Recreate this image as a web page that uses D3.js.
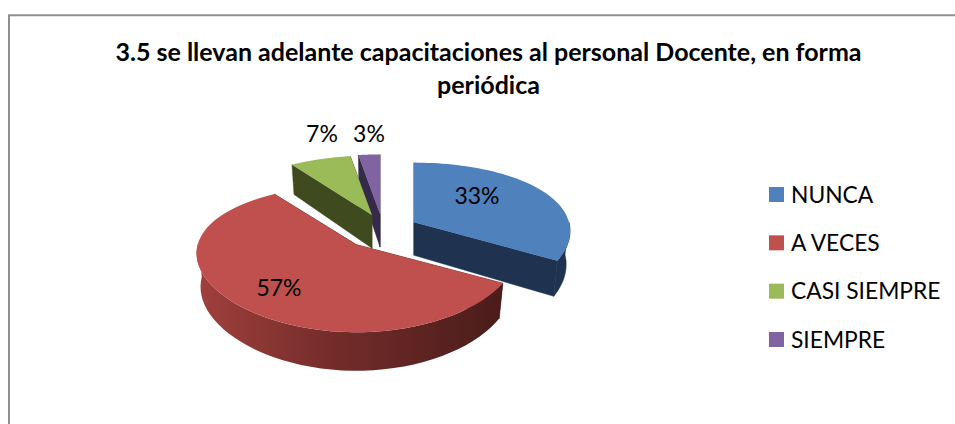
<!DOCTYPE html>
<html><head><meta charset="utf-8">
<script src="https://cdn.jsdelivr.net/npm/d3@7"></script>
<style>html,body{margin:0;padding:0;background:#fff;overflow:hidden}svg{display:block}text{font-family:Lato,"Open Sans",sans-serif;fill:#000}</style>
</head><body><svg id="c" width="955" height="424"></svg>
<script>
const categories = ["NUNCA","A VECES","CASI SIEMPRE","SIEMPRE"];
const values = [33.2,57.2,7.1,2.5];
const valueLabels = ["33%","57%","7%","3%"];
const titleLines = ["3.5 se llevan adelante capacitaciones al personal Docente, en forma","periódica"];
const topColors = ["#4f81bd","#c0504d","#9bbb59","#8064a2"];
const wallColors = ["#1f3350","#4a1c1a","#3f4a1f","#352a4a"];
const labelSpots = [[477,196],[279,288],[322,134],[369,134]];
const sliceNudgeX = [-2,0,3,0];
const sliceScale = [1,1.023,1,1];

const svg = d3.select("#c");
const C = {x:383,y:231}, R=155, RY=71, PX=0.12, PY=0.19, E=0.25, D=33, F=0.975;
function proj(a,b,bottom){
  const sx = 1/(1-PX*b), sy = 1/(1-PY*b);
  return bottom ? [R*a*sx*F, (RY*b*F+D)*sy] : [R*a*sx, RY*b*sy];
}
const slices = d3.pie().sort(null).value(d=>d)(values);
const line = d3.line();
const defs = svg.append("defs");
const g = defs.append("linearGradient").attr("id","rim");
[[0,"#a0403d"],[0.45,"#732c2a"],[1,"#4a1c1a"]].forEach(s=>g.append("stop").attr("offset",s[0]).attr("stop-color",s[1]));

// frame
svg.append("path").attr("d",line([[9,424],[9,15.3],[955,15.3]])).attr("fill","none").attr("stroke","#8e8e8e").attr("stroke-width",2);

// title
svg.append("g").selectAll("text").data(titleLines).join("text")
 .attr("x",488.5).attr("y",(d,i)=>61+i*33).attr("text-anchor","middle")
 .attr("font-size",25).attr("font-weight",700).text(d=>d);

const order=[3,2,0,1];
order.forEach(i=>{
  const d=slices[i];
  const mid=(d.startAngle+d.endAngle)/2;
  const o=[E*R*Math.sin(mid)/(1+PX*E*Math.cos(mid)), -E*RY*Math.cos(mid)/(1+PY*E*Math.cos(mid))];
  const k=sliceScale[i];
  const pt=(t,r,bot)=>{const q=proj(r*k*Math.sin(t),-r*Math.cos(t),bot);return [C.x+sliceNudgeX[i]+o[0]+q[0],C.y+o[1]+q[1]];};
  const angs=d3.range(0,61).map(j=>d.startAngle+(d.endAngle-d.startAngle)*j/60);
  const wall=(t)=>line([pt(t,0,false),pt(t,1,false),pt(t,1,true),pt(t,0,true)])+"Z";
  const wc = wallColors[i];
  svg.append("path").attr("d",wall(d.startAngle)).attr("fill",wc).attr("stroke",wc).attr("stroke-width",0.5);
  svg.append("path").attr("d",wall(d.endAngle)).attr("fill",wc).attr("stroke",wc).attr("stroke-width",0.5);
  const vis=angs.filter(t=>-Math.cos(t)>=-0.03);
  if(vis.length){
    const p=vis.map(t=>pt(t,1,false)).concat(vis.slice().reverse().map(t=>pt(t,1,true)));
    svg.append("path").attr("d",line(p)+"Z").attr("fill", i===1?"url(#rim)":wc).attr("stroke", i===1?"none":wc).attr("stroke-width",0.5);
  }
  const top=[pt(0,0,false)].concat(angs.map(t=>pt(t,1,false)));
  svg.append("path").attr("d",line(top)+"Z").attr("fill",topColors[i]);
});

// value labels
svg.append("g").selectAll("text").data(valueLabels).join("text")
 .attr("x",(d,i)=>labelSpots[i][0]).attr("y",(d,i)=>labelSpots[i][1]+8)
 .attr("text-anchor","middle").attr("font-size",23).text(d=>d);

// legend
const ly=d3.scalePoint().domain(categories).range([194.5,339.5]);
const lg=svg.append("g").selectAll("g").data(categories).join("g").attr("transform",d=>`translate(769,${ly(d)})`);
lg.append("rect").attr("y",-7.5).attr("width",15).attr("height",15).attr("fill",(d,i)=>topColors[i]);
lg.append("text").attr("x",22).attr("y",8).attr("font-size",22.8).text(d=>d);
</script></body></html>
